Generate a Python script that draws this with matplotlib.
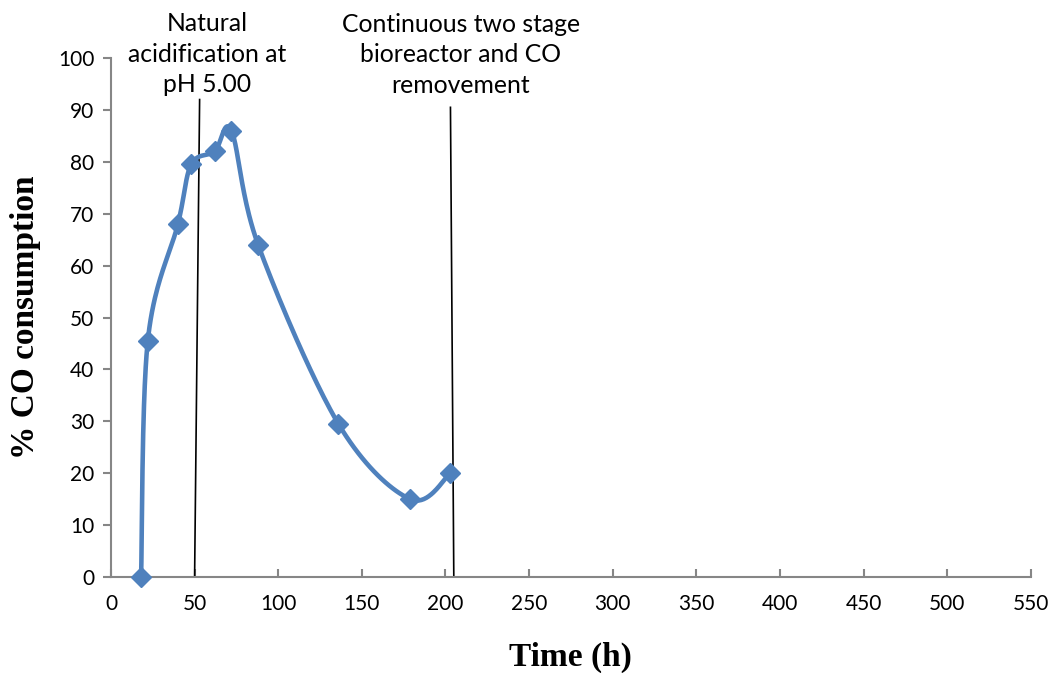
import numpy as np
import matplotlib
matplotlib.use("Agg")
import matplotlib.pyplot as plt

time_h = [18, 22, 40, 48, 62, 72, 88, 136, 179, 203]
co_consumption = [0, 45.5, 68, 79.5, 82, 86, 64, 29.5, 15, 20]
x_ticks = list(range(0, 551, 50))
y_ticks = list(range(0, 101, 10))
line1_x = [50, 53]
line1_y = [0, 92]
line2_x = [205, 203]
line2_y = [0, 90.5]

fig = plt.figure(figsize=(10.55, 6.73), dpi=100)
ax = fig.add_axes([0.1052, 0.1426, 0.977 - 0.1052, 0.9138 - 0.1426])
ax.set_xlim(0, 550)
ax.set_ylim(0, 100)


def smooth(xs, ys, n=40):
    # Excel-like smoothed line (Bezier with Catmull-Rom control points), in display space
    pts = ax.transData.transform(np.column_stack([xs, ys]))
    out = []
    m = len(pts)
    for i in range(m - 1):
        p0 = pts[i - 1] if i > 0 else pts[i]
        p1 = pts[i]
        p2 = pts[i + 1]
        p3 = pts[i + 2] if i + 2 < m else pts[i + 1]
        c1 = p1 + (p2 - p0) / 6
        c2 = p2 - (p3 - p1) / 6
        t = np.linspace(0, 1, n)[:, None]
        seg = ((1 - t) ** 3) * p1 + 3 * ((1 - t) ** 2) * t * c1 + 3 * (1 - t) * t ** 2 * c2 + t ** 3 * p2
        out.append(seg if i == 0 else seg[1:])
    arr = np.vstack(out)
    return ax.transData.inverted().transform(arr)

curve = smooth(time_h, co_consumption)
ax.plot(curve[:, 0], curve[:, 1], color="#4F81BD", lw=3.3, solid_capstyle="round", zorder=3, clip_on=False)
ax.plot(time_h, co_consumption, linestyle="none", marker="D", color="#4F81BD",
        markersize=10, zorder=4, clip_on=False)

ax.plot(line1_x, line1_y, color="black", lw=1.2, zorder=2, clip_on=False)
ax.plot(line2_x, line2_y, color="black", lw=1.2, zorder=2, clip_on=False)

for s in ["top", "right"]:
    ax.spines[s].set_visible(False)
for s in ["left", "bottom"]:
    ax.spines[s].set_color("#868686")
    ax.spines[s].set_linewidth(1.5)

ax.set_xticks(x_ticks)
ax.set_yticks(y_ticks)
ax.tick_params(axis="y", direction="out", length=6, width=1.5, color="#868686",
               labelsize=15, pad=6)
ax.tick_params(axis="x", direction="in", length=6, width=1.5, color="#868686",
               labelsize=15, pad=12)
for lab in ax.get_xticklabels() + ax.get_yticklabels():
    lab.set_fontfamily("Lato")

ax.set_xlabel("Time (h)", fontfamily="Liberation Serif", fontweight="bold", fontsize=24, labelpad=20)
ax.set_ylabel("% CO consumption", fontfamily="Liberation Serif", fontweight="bold", fontsize=24, labelpad=12)

fig.text(207 / 1055, 1 - 54 / 673, "Natural\nacidification at\npH 5.00", ha="center", va="center",
         fontfamily="Lato", fontsize=17.8, linespacing=1.38)
fig.text(461 / 1055, 1 - 55 / 673, "Continuous two stage\nbioreactor and CO\nremovement", ha="center",
         va="center", fontfamily="Lato", fontsize=17.8, linespacing=1.38)

fig.savefig("out.png", dpi=100)
